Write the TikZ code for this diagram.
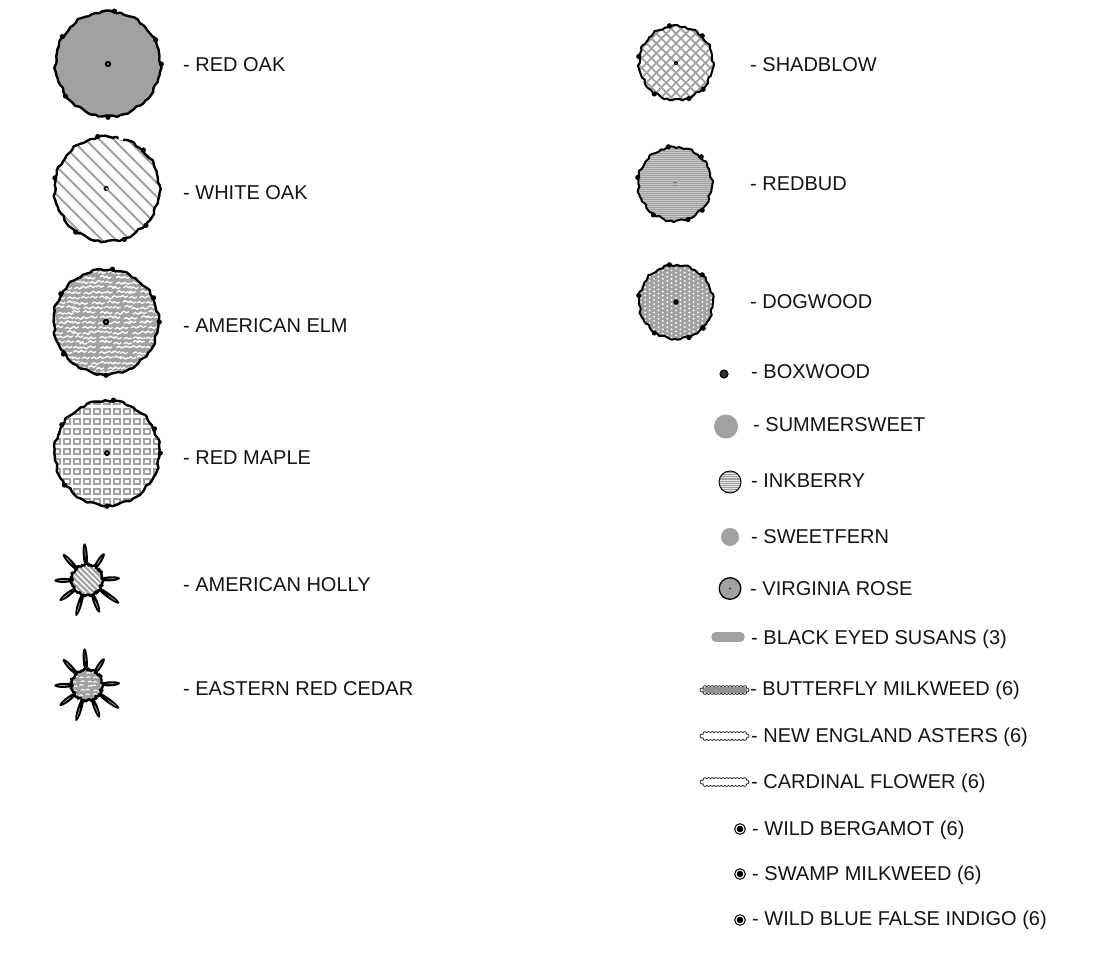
\documentclass[tikz,border=0pt]{standalone}
\usepackage{fontspec}
\setmainfont{Liberation Sans}
\definecolor{treegray}{gray}{0.63}
\definecolor{txt}{gray}{0.08}
\tikzset{
  lab/.style={anchor=base west,inner sep=0pt,text=txt,font=\fontsize{20}{22}\selectfont},
  hatch/.style={draw=treegray,line width=1.8pt}
}
\newcommand{\rimw}{2.4}
% wobbly outline
\newcommand{\wob}[2]{plot[smooth cycle,domain=0:356,samples=90,variable=\t] (\t:{#1+0.7*sin(11*\t+#2)+0.6*sin(23*\t+2*#2)+0.4*sin(37*\t+3*#2)})}
% cx cy r phase fill blobs centre
\newcommand{\treeshape}[7]{%
  \begin{scope}[shift={(#1,#2)}]
    \begin{scope}\clip \wob{#3}{#4}; #5 \end{scope}
    \draw[black,line width=\rimw pt,line join=round] \wob{#3}{#4};
    \foreach \b in {#6} {\fill (\b:#3+.8) circle (2.6);}
    #7
  \end{scope}}
\newcommand{\spikes}{%
  \foreach \a/\l in {94/36.8,57/31.8,3/33,-36/39.8,-69/35,-107/37.6,217/34.3,181/32.7,133/35.4}{
    \fill[black,rotate=\a] (12,0) .. controls (14,3.3) and (\l,3.3) .. (\l,0) .. controls (\l,-3.3) and (14,-3.3) .. (12,0) -- cycle;
    \fill[treegray,rotate=\a] (\l-9,0) ellipse (5 and .4);
  }}
\newcommand{\strip}[2]{%
  \foreach \xx in {705,708.6,...,745}{
    \draw[line width=.65pt,fill=white] (\xx,#1-2.4) circle (2);
    \draw[line width=.65pt,fill=white] (\xx,#1+2.4) circle (2);
  }
  \draw[line width=.65pt,fill=white] (702,#1) circle (2);
  \draw[line width=.65pt,fill=white] (747,#1) circle (2);
  \fill[#2] (702.3,#1) .. controls (704,#1-2.6) .. (706,#1-2.8) -- (745,#1-2.8) .. controls (747.5,#1-2) and (747.5,#1+2) .. (745,#1+2.8) -- (706,#1+2.8) .. controls (704,#1+2.6) .. (702.3,#1) -- cycle;
}
\begin{document}
\begin{tikzpicture}[x=1pt,y=-1pt]
\useasboundingbox[fill=white] (0,0) rectangle (1107,969);

% RED OAK
\treeshape{108}{64}{52.5}{10}{\fill[treegray] (-60,-60) rectangle (60,60);}
  {277,333,0,90,143,211}
  {\fill (0,0) circle (3.2); \fill[treegray] (0,0) circle (1);}
% WHITE OAK
\treeshape{107}{189}{52.5}{55}{\foreach \k in {-8,...,8}{\draw[hatch] (-70,-70+\k*14) -- (70,70+\k*14);}}
  {260,313,192,126,71,43}
  {\draw[white,line width=3.4pt] (283:52.5) arc (283:288:52.5);
   \fill[black] (-.8,-.5) circle (2.6); \fill[treegray] (0,0) circle (1.7);}
% AMERICAN ELM
\pgfmathsetseed{4242}
\treeshape{106}{322}{52.5}{120}{\fill[treegray] (-60,-60) rectangle (60,60);
  \foreach \r in {-11,...,11}{\foreach \c in {-7,...,7}{
    \pgfmathsetmacro{\ox}{\c*8.2+5*rnd-2.5}\pgfmathsetmacro{\oy}{\r*5+2.2*rnd}
    \draw[white,line width=1.25pt,line join=round] (\ox,\oy) -- ++(2.6,-1.6) -- ++(2.6,1.8) -- ++(2.6,-1.4);
  }}}
  {277,333,0,90,143,212}
  {\fill (0,0) circle (3.3); \fill[treegray] (0,0) circle (1.1);}
% RED MAPLE
\treeshape{107}{453}{52.5}{200}{\foreach \i in {-6,...,6}{\foreach \j in {-6,...,6}{
    \draw[treegray,line width=2pt] (\i*10-2.6,\j*10-4.3) rectangle +(5.2,5.2);}}}
  {277,333,0,90,143,212}
  {\fill[white] (0,0) circle (3.6); \fill (0,0) circle (3.1); \fill[treegray] (0,0) circle (1);}
% HOLLY
\begin{scope}[shift={(87,580)}]\spikes\end{scope}
\treeshape{87}{580}{15.5}{30}{\fill[white] (-20,-20) rectangle (20,20);\foreach \k in {-6,...,6}{\draw[treegray,line width=2.2pt] (-30,-30+\k*5.6) -- (30,30+\k*5.6);}}{}{}
\begin{scope}[shift={(87,580)}]\foreach \b in {20,55,100,140,190,230,275,320}{\fill (\b:16) circle (1.8);}\end{scope}
% CEDAR
\begin{scope}[shift={(87,685)}]\spikes\end{scope}
\pgfmathsetseed{99}
\treeshape{87}{685}{15.5}{70}{\fill[treegray] (-20,-20) rectangle (20,20);
  \foreach \r in {-3,...,3}{\foreach \c in {-2,...,2}{
    \pgfmathsetmacro{\ox}{\c*6.5+3*rnd-2}\pgfmathsetmacro{\oy}{\r*4.5+2*rnd}
    \draw[white,line width=1pt] (\ox,\oy) -- ++(2,-1) -- ++(2,1);
  }}}{}{}
\begin{scope}[shift={(87,685)}]\foreach \b in {20,55,100,140,190,230,275,320}{\fill (\b:16) circle (1.8);}\end{scope}

\renewcommand{\rimw}{2}
% SHADBLOW
\treeshape{676}{63}{37}{15}{
  \foreach \k in {-8,...,8}{\draw[hatch,line width=1.8pt] (-50,-50+\k*9.8) -- (50,50+\k*9.8);
                            \draw[hatch,line width=1.8pt] (-50,50+\k*9.8) -- (50,-50+\k*9.8);}}
  {260,314,190,125,70,44}
  {\fill (0,0) circle (2.1); \fill[treegray] (0,.3) circle (.6);}
% REDBUD
\treeshape{675}{184}{37}{90}{\fill[treegray] (-40,-40) rectangle (40,40);
  \foreach \k in {-20,...,20}{\draw[gray!45!white,line width=.6pt] (-40,\k*2) -- (40,\k*2);}}
  {260,314,190,125,70,44}
  {\draw[gray,line width=.9pt] (-2.2,-1.2) -- (2.2,-1.2) (-2.2,1.2) -- (2.2,1.2);}
% DOGWOOD
\treeshape{676}{302}{37}{160}{\fill[treegray] (-40,-40) rectangle (40,40);
  \foreach \i in {-10,...,10}{\foreach \j in {-11,...,11}{
    \fill[white] ({\i*4.4},{\j*4.2+mod(\i+20,2)*2.1}) circle (1.05);}}}
  {260,314,190,125,70,44}
  {\fill (0,0) circle (2.8);}

% BOXWOOD
\fill[black] (724,374) circle (4.6);
\fill[gray!40!black] (724,374) circle (3);
% SUMMERSWEET
\fill[treegray] (726,426.5) circle (12);
% INKBERRY
\begin{scope}\clip (730,482) circle (11);
  \fill[treegray] (719,471) rectangle (741,493);
  \foreach \k in {-5,...,5}{\draw[white!80!gray,line width=.7pt] (718,482+\k*2.1) -- (742,482+\k*2.1);}
\end{scope}
\draw[line width=1pt] (730,482) circle (11);
% SWEETFERN
\fill[treegray] (730,537) circle (9);
% VIRGINIA ROSE
\fill[treegray] (730,588.5) circle (10.8);
\draw[line width=1.3pt] (730,588.5) circle (10.8);
\fill (730,588.5) circle (.9);
% BLACK EYED SUSANS
\draw[treegray,line width=9.5pt,line cap=round] (716,637) -- (740,637);
% BUTTERFLY MILKWEED
\strip{690}{treegray!90!black}
% NEW ENGLAND ASTERS
\strip{736}{white}
% CARDINAL FLOWER
\strip{782}{white}
% small bullseyes
\foreach \yy in {829,874,920}{
  \draw[line width=1pt] (740,\yy) circle (5.3);
  \fill (740,\yy) circle (3.3);
}

\node[lab] (redoak) at (183,71) {- RED OAK};
\node[lab] (whiteoak) at (183,199) {- WHITE OAK};
\node[lab] (elm) at (183,332) {- AMERICAN ELM};
\node[lab] (maple) at (183,464) {- RED MAPLE};
\node[lab] (holly) at (183,591) {- AMERICAN HOLLY};
\node[lab] (cedar) at (183,695) {- EASTERN RED CEDAR};
\node[lab] (shadblow) at (750,71) {- SHADBLOW};
\node[lab] (redbud) at (750,190) {- REDBUD};
\node[lab] (dogwood) at (750,308) {- DOGWOOD};
\node[lab] (boxwood) at (751,378) {- BOXWOOD};
\node[lab] (summersweet) at (753,431) {- SUMMERSWEET};
\node[lab] (inkberry) at (751,487) {- INKBERRY};
\node[lab] (sweetfern) at (751,543) {- SWEETFERN};
\node[lab] (virginia) at (750,595) {- VIRGINIA ROSE};
\node[lab] (susans) at (751,644) {- BLACK EYED SUSANS (3)};
\node[lab] (butterfly) at (750,695) {- BUTTERFLY MILKWEED (6)};
\node[lab] (asters) at (751,742) {- NEW ENGLAND ASTERS (6)};
\node[lab] (cardinal) at (751,788) {- CARDINAL FLOWER (6)};
\node[lab] (bergamot) at (752,835) {- WILD BERGAMOT (6)};
\node[lab] (swamp) at (752,880) {- SWAMP MILKWEED (6)};
\node[lab] (indigo) at (752,925) {- WILD BLUE FALSE INDIGO (6)};
\end{tikzpicture}
\end{document}
